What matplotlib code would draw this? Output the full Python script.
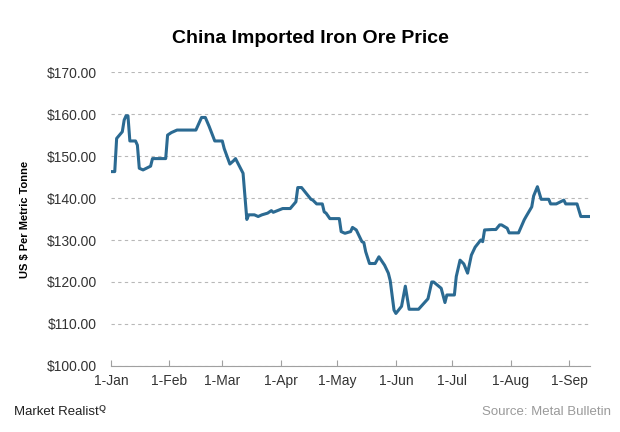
import matplotlib
matplotlib.use("Agg")
import matplotlib.pyplot as plt
import matplotlib.dates as mdates
import pandas as pd

plt.rcParams['font.family'] = ['Liberation Sans', 'DejaVu Sans']

# price readings (2013)
dates = ["01-01", "01-03", "01-04", "01-07", "01-08", "01-09", "01-10", "01-11",
         "01-14", "01-15", "01-16", "01-18", "01-22", "01-23", "01-30", "01-31",
         "02-02", "02-05", "02-15", "02-18", "02-20", "02-22", "02-25", "03-01",
         "03-02", "03-05", "03-07", "03-08", "03-12", "03-14", "03-15", "03-18",
         "03-20", "03-22", "03-25", "03-27", "03-28", "04-02", "04-06", "04-09",
         "04-10", "04-12", "04-17", "04-18", "04-20", "04-23", "04-24", "04-25",
         "04-27", "05-02", "05-03", "05-05", "05-08", "05-09", "05-11", "05-14",
         "05-15", "05-16", "05-18", "05-21", "05-23", "05-26", "05-28", "05-29",
         "05-31", "06-01", "06-04", "06-06", "06-08", "06-13", "06-18", "06-20",
         "06-21", "06-25", "06-27", "06-28", "07-02", "07-03", "07-05", "07-07",
         "07-09", "07-11", "07-13", "07-16", "07-17", "07-18", "07-22", "07-24",
         "07-26", "07-27", "07-30", "07-31", "08-05", "08-08", "08-09", "08-12",
         "08-13", "08-15", "08-17", "08-21", "08-22", "08-25", "08-29", "08-30",
         "09-05", "09-07", "09-12"]
price = [146.3, 146.3, 154.2, 155.8, 158.6, 159.6, 159.6, 153.6,
         153.6, 152.6, 147.1, 146.7, 147.6, 149.4, 149.4, 155.0,
         155.6, 156.2, 156.2, 159.2, 159.2, 157.1, 153.6, 153.6,
         151.8, 148.1, 148.9, 149.4, 145.9, 134.9, 136.0, 136.0,
         135.6, 136.0, 136.4, 137.0, 136.6, 137.5, 137.5, 139.1,
         142.5, 142.5, 139.7, 139.5, 138.6, 138.6, 136.7, 136.4,
         135.1, 135.1, 132.0, 131.6, 132.0, 133.0, 132.4, 129.6,
         129.4, 127.2, 124.4, 124.4, 126.0, 124.0, 122.1, 120.3,
         113.3, 112.5, 114.2, 119.0, 113.5, 113.5, 116.0, 120.0,
         120.0, 118.5, 115.1, 116.9, 116.9, 121.3, 125.2, 124.3,
         122.1, 126.4, 128.3, 130.0, 129.6, 132.4, 132.5, 132.5,
         133.6, 133.6, 132.8, 131.7, 131.7, 134.8, 135.6, 137.9,
         140.5, 142.7, 139.7, 139.7, 138.6, 138.6, 139.5, 138.6,
         138.6, 135.6, 135.6]

x = pd.to_datetime(["2013-" + d for d in dates])

fig = plt.figure(figsize=(6.2, 4.32), dpi=100)
ax = fig.add_axes([0.179, 0.153, 0.773, 0.680])
ax.plot(x, price, color="#2b6a92", lw=2.2, solid_joinstyle="round")

ax.set_ylim(100, 170)
ax.set_yticks(range(100, 171, 10))
ax.set_yticklabels(["${:.2f}".format(v) for v in range(100, 171, 10)])
ax.set_xlim(pd.Timestamp("2013-01-01"), pd.Timestamp("2013-09-12"))
ax.xaxis.set_major_locator(mdates.MonthLocator())
ax.xaxis.set_major_formatter(mdates.DateFormatter("1-%b"))

ax.grid(axis="y", color="#b8b8b8", ls=(0, (3, 3)), lw=0.8)
ax.set_axisbelow(True)
for s in ["top", "right", "left"]:
    ax.spines[s].set_visible(False)
ax.spines["bottom"].set_color("#a0a0a0")
ax.tick_params(axis="y", length=0, labelsize=10, colors="#333333", pad=10)
ax.tick_params(axis="x", direction="in", length=4, color="#a0a0a0",
               labelsize=10, labelcolor="#333333", pad=6)

ax.set_ylabel("US $ Per Metric Tonne", fontsize=8, fontweight="bold", labelpad=12)
fig.suptitle("China Imported Iron Ore Price", fontsize=14, fontweight="bold", y=0.93)

# footer: logo text + little magnifier mark right after it, source on the right
logo = fig.text(0.022, 0.04, "Market Realist", fontsize=9.5, color="#222222")
ax.annotate("Q", xy=(1, 0.55), xycoords=logo, xytext=(0.5, 0), textcoords="offset points",
            fontsize=6.5, color="#444444", fontweight="bold", annotation_clip=False)
fig.text(0.985, 0.04, "Source: Metal Bulletin", fontsize=9.5, color="#9a9a9a", ha="right")

fig.savefig("out.png", dpi=100)
